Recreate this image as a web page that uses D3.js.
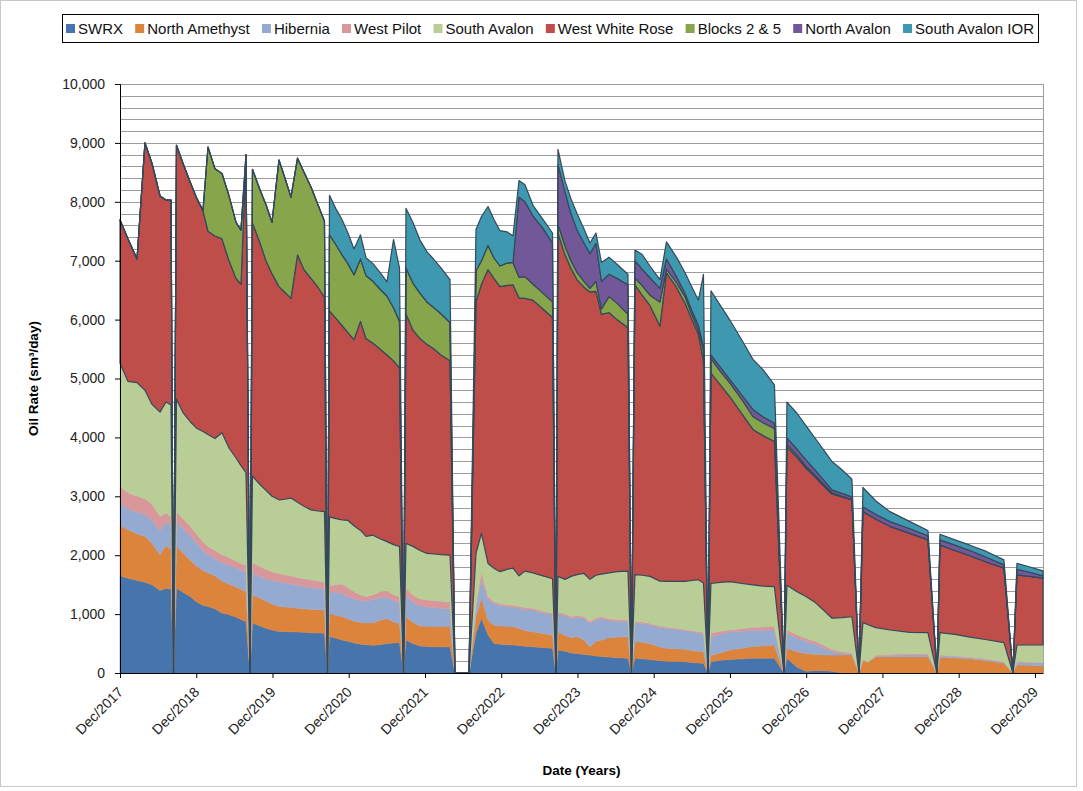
<!DOCTYPE html>
<html>
<head>
<meta charset="utf-8">
<script src="https://cdn.jsdelivr.net/npm/d3@7"></script>
<style>
  body { margin: 0; background: #fff; }
  svg { display: block; font-family: 'Liberation Sans', Arial, sans-serif; }
</style>
</head>
<body>
<svg id="chart" width="1083" height="791"></svg>
<script>
// months counted from Dec 2017; each year ends with a one-point shutdown at zero
const monthsFromStart = [
  0, 1.26, 2.68, 3.93, 5.04, 6.30, 7.24, 8.03, 8.42,
  8.89, 9.92, 11.02, 12.12, 13.06, 13.85, 14.95, 16.05, 17.16, 18.26, 19.04, 19.83, 20.46,
  20.85, 22.04, 22.98, 23.92, 25.02, 25.97, 26.91, 27.94, 28.96, 30.06, 31.16, 32.18, 32.66,
  32.97, 33.99, 34.94, 35.88, 36.83, 37.85, 38.72, 39.82, 40.92, 42.02, 43.05, 43.99, 44.62,
  45.01, 46.11, 47.21, 48.32, 49.42, 50.52, 51.94, 52.72, 54.93,
  56.03, 56.89, 57.92, 58.86, 59.80, 60.91, 61.85, 62.80, 63.74, 65.00, 66.57, 68.07, 68.62,
  68.93, 70.04, 70.98, 71.93, 73.03, 73.97, 74.91, 75.78, 76.96, 78.22, 79.95, 80.50,
  81.05, 82.15, 83.41, 84.98, 86.01, 87.58, 88.92, 90.02, 91.04, 91.83, 92.54,
  93.01, 94.43, 96.00, 97.89, 99.62, 101.20, 103.00, 104.50,
  104.97, 106.55, 107.96, 109.38, 110.80, 112.06, 113.63, 115.20, 116.30,
  116.93, 117.72, 118.98, 121.18, 124.33, 127.16, 128.58,
  129.05, 131.41, 133.77, 136.45, 139.12, 140.54,
  141.17, 143.22, 145.27
]

const swrx = [
  1650, 1610, 1570, 1540, 1500, 1400, 1440, 1420, 0,
  1440, 1370, 1300, 1200, 1150, 1130, 1090, 1020, 990, 950, 910, 870, 0,
  850, 800, 760, 730, 705, 700, 700, 695, 690, 685, 680, 675, 0,
  620, 590, 560, 540, 510, 490, 480, 470, 480, 500, 510, 515, 0,
  560, 500, 460, 450, 445, 445, 440, 0, 0,
  680, 930, 650, 500, 490, 480, 475, 465, 455, 445, 430, 420, 0,
  390, 370, 340, 330, 315, 305, 290, 280, 270, 260, 250, 0,
  250, 240, 230, 210, 200, 195, 190, 180, 170, 165, 0,
  190, 215, 230, 240, 250, 250, 250, 0,
  250, 100, 30, 40, 40, 30, 0, 0, 0,
  0, 0, 0, 0, 0, 0, 0,
  0, 0, 0, 0, 0, 0,
  0, 0, 0
]

const northAmethyst = [
  860, 820, 790, 780, 700, 610, 720, 680, 0,
  720, 670, 620, 610, 590, 570, 560, 540, 520, 510, 510, 510, 0,
  480, 470, 460, 440, 425, 420, 410, 405, 400, 395, 395, 395, 0,
  390, 390, 400, 380, 370, 370, 370, 380, 420, 420, 360, 325, 0,
  390, 360, 340, 340, 345, 345, 350, 0, 0,
  270, 340, 250, 310, 310, 310, 310, 295, 265, 255, 240, 225, 0,
  310, 270, 260, 290, 245, 140, 250, 280, 330, 350, 365, 0,
  280, 280, 270, 230, 220, 215, 210, 200, 200, 200, 0,
  110, 125, 160, 180, 200, 210, 225, 0,
  170, 260, 300, 280, 270, 275, 305, 305, 0,
  220, 180, 275, 275, 275, 275, 0,
  265, 255, 240, 210, 165, 0,
  135, 130, 120
]

const hibernia = [
  370, 360, 370, 370, 400, 410, 410, 400, 0,
  410, 410, 420, 390, 340, 310, 300, 310, 320, 330, 330, 340, 0,
  370, 370, 380, 400, 420, 410, 400, 390, 380, 370, 365, 360, 0,
  370, 390, 390, 380, 380, 370, 370, 400, 380, 370, 360, 360, 0,
  370, 340, 340, 330, 320, 310, 300, 0, 0,
  170, 330, 350, 370, 350, 340, 335, 340, 360, 370, 350, 345, 0,
  310, 330, 330, 330, 370, 405, 370, 370, 290, 270, 255, 0,
  325, 320, 320, 330, 340, 330, 320, 320, 310, 310, 0,
  315, 320, 310, 290, 275, 265, 255, 0,
  255, 240, 210, 170, 110, 65, 25, 20, 0,
  5, 5, 10, 25, 30, 30, 0,
  30, 25, 20, 20, 20, 0,
  45, 45, 50
]

const westPilot = [
  290, 270, 270, 270, 270, 240, 150, 150, 0,
  170, 170, 160, 150, 150, 140, 130, 140, 130, 110, 110, 110, 0,
  170, 170, 160, 150, 140, 140, 140, 130, 130, 130, 120, 120, 0,
  100, 130, 160, 150, 120, 100, 80, 80, 100, 110, 100, 100, 0,
  120, 120, 120, 120, 120, 120, 110, 0, 0,
  30, 120, 50, 30, 30, 30, 30, 30, 30, 30, 30, 25, 0,
  30, 30, 30, 30, 30, 30, 30, 30, 30, 30, 30, 0,
  25, 25, 25, 25, 20, 20, 20, 20, 20, 15, 0,
  65, 50, 30, 40, 50, 55, 60, 0,
  55, 50, 50, 50, 50, 30, 30, 20, 0,
  5, 5, 15, 20, 20, 20, 0,
  10, 10, 10, 10, 5, 0,
  10, 10, 10
]

const southAvalon = [
  2090, 1890, 1930, 1840, 1690, 1770, 1880, 1900, 0,
  1910, 1800, 1770, 1800, 1870, 1900, 1900, 2070, 1860, 1750, 1660, 1570, 0,
  1470, 1390, 1340, 1280, 1250, 1280, 1320, 1280, 1230, 1190, 1190, 1190, 0,
  1170, 1120, 1090, 1140, 1120, 1090, 1020, 1010, 900, 830, 850, 850, 0,
  760, 830, 820, 790, 790, 790, 800, 0, 0,
  880, 650, 560, 570, 540, 600, 630, 520, 620, 600, 600, 585, 0,
  600, 590, 680, 690, 730, 710, 720, 720, 780, 810, 830, 0,
  790, 795, 795, 765, 775, 795, 815, 850, 885, 840, 0,
  840, 830, 820, 770, 720, 695, 675, 0,
  760, 730, 710, 660, 590, 530, 580, 610, 0,
  630, 630, 470, 410, 365, 360, 0,
  380, 365, 340, 325, 325, 0,
  285, 290, 295
]

const westWhiteRose = [
  2430, 2420, 2100, 4200, 4090, 3670, 3430, 3480, 0,
  4310, 4230, 4070, 3900, 3750, 3450, 3440, 3290, 3180, 3050, 3080, 5350, 0,
  4300, 4100, 3900, 3780, 3620, 3510, 3390, 4200, 4020, 3930, 3800, 3640, 0,
  3500, 3400, 3300, 3190, 3160, 3550, 3360, 3260, 3220, 3170, 3120, 3030, 0,
  3900, 3670, 3600, 3550, 3480, 3390, 3300, 0, 0,
  4270, 4230, 4990, 4920, 4840, 4820, 4810, 4720, 4630, 4630, 4530, 4435, 0,
  5830, 5510, 5230, 5010, 4860, 4880, 4820, 4410, 4420, 4280, 4130, 0,
  4920, 4760, 4600, 4330, 5240, 4995, 4725, 4430, 4165, 3770, 0,
  3570, 3360, 3140, 2880, 2640, 2555, 2465, 0,
  2350, 2280, 2180, 2130, 2110, 2110, 2050, 1985, 0,
  1880, 1870, 1840, 1760, 1680, 1575, 0,
  1490, 1425, 1380, 1315, 1265, 0,
  1190, 1165, 1135
]

const blocks25 = [
  0, 0, 0, 0, 0, 0, 0, 0, 0,
  0, 0, 0, 0, 0, 1430, 1140, 1110, 1100, 950, 920, 50, 0,
  910, 900, 950, 870, 2150, 1940, 1720, 1640, 1650, 1550, 1400, 1290, 0,
  1290, 1250, 1200, 1170, 1100, 1060, 1070, 1050, 1020, 1000, 900, 790, 0,
  780, 800, 770, 720, 700, 700, 650, 0, 0,
  530, 400, 410, 350, 350, 380, 380, 350, 370, 270, 270, 265, 0,
  150, 150, 130, 120, 100, 60, 170, 90, 270, 280, 230, 0,
  120, 160, 175, 410, 60, 80, 110, 80, 70, 180, 0,
  250, 230, 230, 240, 220, 220, 220, 0,
  40, 40, 30, 30, 30, 20, 10, 10, 0,
  0, 0, 0, 0, 0, 0, 0,
  0, 0, 0, 0, 0, 0,
  0, 0, 0
]

const northAvalon = [
  0, 0, 0, 0, 0, 0, 0, 0, 0,
  0, 0, 0, 0, 0, 0, 0, 0, 0, 0, 0, 0, 0,
  0, 0, 0, 0, 0, 0, 0, 0, 0, 0, 0, 0, 0,
  0, 0, 0, 0, 0, 0, 0, 0, 0, 0, 0, 0, 0,
  0, 0, 0, 0, 0, 0, 0, 0, 0,
  0, 0, 0, 0, 0, 0, 0, 1360, 1270, 1160, 1100, 1000, 0,
  1020, 920, 800, 720, 650, 590, 645, 470, 380, 420, 500, 0,
  290, 280, 295, 230, 175, 100, 60, 70, 80, 60, 0,
  60, 70, 60, 80, 120, 100, 90, 0,
  110, 100, 110, 90, 70, 50, 50, 40, 0,
  80, 80, 80, 80, 80, 70, 0,
  85, 90, 90, 80, 55, 0,
  95, 70, 40
]

const southAvalonIOR = [
  0, 0, 0, 0, 0, 0, 0, 0, 0,
  0, 0, 0, 0, 0, 0, 0, 0, 0, 0, 0, 0, 0,
  0, 0, 0, 0, 0, 0, 0, 0, 0, 0, 0, 0, 0,
  670, 610, 600, 520, 440, 410, 300, 300, 280, 240, 1160, 910, 0,
  1010, 1030, 900, 850, 820, 780, 730, 0, 0,
  700, 750, 660, 650, 600, 530, 450, 280, 290, 180, 150, 170, 0,
  250, 180, 250, 280, 240, 180, 175, 320, 290, 240, 180, 0,
  180, 250, 200, 150, 290, 330, 350, 400, 430, 1230, 0,
  1090, 1050, 1010, 930, 850, 800, 650, 0,
  610, 610, 580, 540, 510, 480, 400, 300, 0,
  330, 290, 230, 170, 120, 90, 0,
  95, 90, 90, 100, 85, 0,
  100, 90, 85
]

const seriesNames = ['SWRX', 'North Amethyst', 'Hibernia', 'West Pilot', 'South Avalon',
  'West White Rose', 'Blocks 2 & 5', 'North Avalon', 'South Avalon IOR']
const seriesValues = [swrx, northAmethyst, hibernia, westPilot, southAvalon,
  westWhiteRose, blocks25, northAvalon, southAvalonIOR]
const seriesColors = ['#4674ac', '#dd843c', '#95aad0', '#d8979a', '#b9cd96',
  '#bf4d4a', '#87a54b', '#735899', '#3e98af']
const outlined = [false, false, false, false, false, true, true, true, true]

const yTicks = d3.range(0, 10001, 1000)
const gridValues = d3.range(0, 10001, 200)
const xTickMonths = d3.range(0, 145, 12)
const startDate = new Date(2017, 11, 1)

const margins = { top: 84, left: 120, bottom: 118, right: 40 }
const width = 1083
const height = 791
const innerWidth = width - margins.left - margins.right
const innerHeight = height - margins.top - margins.bottom

const svg = d3.select('#chart')

svg.append('rect')
  .attr('x', 0.5).attr('y', 0.5)
  .attr('width', 1076).attr('height', 786)
  .attr('fill', 'none')
  .attr('stroke', '#c8c8c8')

const x = d3.scaleLinear()
  .domain([0, d3.max(monthsFromStart)])
  .range([0, innerWidth])

const y = d3.scaleLinear()
  .domain([0, 10000])
  .range([innerHeight, 0])

const table = monthsFromStart.map((m, i) => {
  const row = { month: m }
  seriesNames.forEach((name, k) => { row[name] = seriesValues[k][i] })
  return row
})

const stacked = d3.stack().keys(seriesNames)(table)

const g = svg.append('g')
  .attr('transform', `translate(${margins.left}, ${margins.top})`)

// grid
g.append('g')
  .selectAll('line')
  .data(gridValues)
  .join('line')
  .attr('x1', 0)
  .attr('x2', innerWidth)
  .attr('y1', (d) => Math.round(y(d)) + 0.5)
  .attr('y2', (d) => Math.round(y(d)) + 0.5)
  .attr('stroke', '#9c9c9c')
  .attr('stroke-width', 1)

g.append('line')
  .attr('x1', innerWidth + 0.5).attr('x2', innerWidth + 0.5)
  .attr('y1', 0).attr('y2', innerHeight)
  .attr('stroke', '#9c9c9c')

const area = d3.area()
  .x((d) => x(d.data.month))
  .y0((d) => y(d[0]))
  .y1((d) => y(d[1]))

g.append('g')
  .selectAll('path')
  .data(stacked)
  .join('path')
  .attr('d', area)
  .attr('fill', (_, i) => seriesColors[i])
  .attr('stroke', (_, i) => outlined[i] ? '#34495a' : seriesColors[i])
  .attr('stroke-width', (_, i) => outlined[i] ? 1.2 : 0.5)
  .attr('stroke-linejoin', 'round')

// axes
const yAxis = g.append('g')
  .call(d3.axisLeft(y).tickValues(yTicks).tickFormat(d3.format(',')).tickSize(5).tickPadding(10))
yAxis.select('.domain').attr('stroke', '#000')
yAxis.selectAll('text').style('font-size', '14px').attr('fill', '#222')

const fmt = d3.timeFormat('%b/%Y')
const xAxis = g.append('g')
  .attr('transform', `translate(0, ${innerHeight})`)
  .call(d3.axisBottom(x).tickValues(xTickMonths).tickFormat('').tickSize(5).tickSizeOuter(0))
xAxis.select('.domain').attr('stroke', '#000')

// rotated date labels
g.append('g')
  .selectAll('g')
  .data(xTickMonths)
  .join('g')
  .attr('transform', (m) => `translate(${x(m) + 4}, ${innerHeight + 20}) rotate(-45)`)
  .append('text')
  .text((m) => fmt(d3.timeMonth.offset(startDate, m)))
  .attr('text-anchor', 'end')
  .style('font-size', '14px')
  .attr('fill', '#222')

// titles
svg.append('text')
  .text('Date (Years)')
  .attr('x', margins.left + innerWidth / 2)
  .attr('y', 775)
  .attr('text-anchor', 'middle')
  .style('font-weight', 'bold')
  .style('font-size', '13.5px')

svg.append('g')
  .attr('transform', `translate(38, ${margins.top + innerHeight / 2}) rotate(-90)`)
  .append('text')
  .text('Oil Rate (sm³/day)')
  .attr('text-anchor', 'middle')
  .style('font-weight', 'bold')
  .style('font-size', '13.5px')

// legend
const legend = svg.append('g')
legend.append('rect')
  .attr('x', 62.5).attr('y', 14.5)
  .attr('width', 976).attr('height', 28)
  .attr('fill', 'none')
  .attr('stroke', '#000')

const items = legend.selectAll('g.item')
  .data(seriesNames)
  .join('g')
  .attr('class', 'item')

items.append('rect')
  .attr('width', 9).attr('height', 9)
  .attr('y', 24)
  .attr('fill', (_, i) => seriesColors[i])

items.append('text')
  .text((d) => d)
  .attr('x', 12)
  .attr('y', 34)
  .style('font-size', '15px')
  .attr('fill', '#111')

const widths = []
items.each(function () { widths.push(12 + this.querySelector('text').getComputedTextLength()) })
const gap = (1034 - 66 - d3.sum(widths)) / (widths.length - 1)
let cursor = 66
items.attr('transform', (_, i) => {
  const t = `translate(${cursor}, 0)`
  cursor += widths[i] + gap
  return t
})
</script>
</body>
</html>
